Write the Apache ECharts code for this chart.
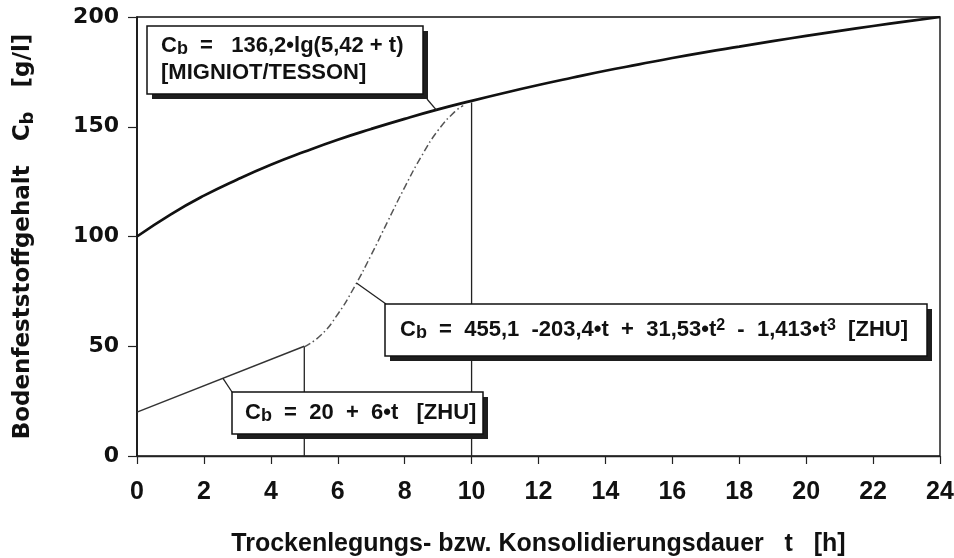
<!DOCTYPE html>
<html><head><meta charset="utf-8">
<script src="https://cdn.jsdelivr.net/npm/echarts@6/dist/echarts.min.js"></script>
<style>html,body{margin:0;padding:0;background:#fff}#c{width:954px;height:558px}</style>
</head><body><div id="c"></div>
<script>
// ---- data ----
const xTickValues = [0,2,4,6,8,10,12,14,16,18,20,22,24];
const yTickValues = [0,50,100,150,200];

// C_b = 136,2*lg(5,42+t)  [MIGNIOT/TESSON]
const tLog  = [0,1,2,3,4,5,6,7,8,9,10,11,12,13,14,15,16,17,18,19,20,21,22,23,24];
const cbLog = [100.0,110.0,118.6,126.0,132.7,138.6,144.1,149.0,153.6,157.9,161.8,165.5,169.0,172.3,175.5,178.4,181.3,184.0,186.5,189.0,191.4,193.7,195.9,198.0,200.0];

// C_b = 20 + 6*t  [ZHU]
const tLin  = [0, 5];
const cbLin = [20, 50];

// C_b = 455,1 - 203,4*t + 31,53*t^2 - 1,413*t^3  [ZHU]
const tCubic  = [5, 5.5, 6, 6.5, 7, 7.5, 8, 8.5, 9, 9.5, 9.75];
const cbCubic = [49.7, 55.1, 64.6, 77.1, 91.6, 107.1, 122.4, 136.5, 148.4, 156.9, 159.6];

// vertical guide lines
const tGuide  = [5, 10];
const cbGuide = [50, 161];

// points where the annotation leader lines touch the curves
const leaderT  = [8.95, 6.56, 2.57];
const leaderCb = [157.6, 78.8, 35.4];

const chart = echarts.init(document.getElementById('c'));
const zip = (a, b) => a.map((v, i) => [v, b[i]]);

const series = [
  { type:'line', data: zip(tLog, cbLog), smooth:true, symbol:'none', z:5,
    lineStyle:{ color:'#111', width:2.7 } },
  { type:'line', data: zip(tLin, cbLin), symbol:'none', z:4,
    lineStyle:{ color:'#333', width:1.5 } },
  { type:'line', data: zip(tCubic, cbCubic), smooth:true, symbol:'none', z:4,
    lineStyle:{ color:'#555', width:1.5, type:[7,3,1.5,3] } }
];
tGuide.forEach((t, i) => series.push({
  type:'line', data:[[t, 0],[t, cbGuide[i]]], symbol:'none', z:3,
  lineStyle:{ color:'#222', width:1.3 }
}));

chart.setOption({
  animation:false,
  backgroundColor:'#fff',
  grid:{ left:137, right:14, top:17, bottom:102, show:true, borderColor:'#111', borderWidth:1.4,
         outerBoundsMode:'none', containLabel:false },
  xAxis:{
    type:'value', min:0, max:24, interval:2,
    axisLine:{ lineStyle:{ color:'#222', width:1.3 } },
    axisTick:{ show:true, inside:false, length:8, lineStyle:{ color:'#222', width:1.2 } },
    splitLine:{ show:false },
    axisLabel:{ margin:24, color:'#111', fontFamily:'Liberation Sans', fontWeight:'bold', fontSize:25,
      formatter: v => xTickValues.includes(v) ? String(v) : '' },
    name:'Trockenlegungs- bzw. Konsolidierungsdauer   t   [h]',
    nameLocation:'middle', nameGap:76,
    nameTextStyle:{ color:'#111', fontFamily:'Liberation Sans', fontWeight:'bold', fontSize:25 }
  },
  yAxis:{
    type:'value', min:0, max:200, interval:50,
    axisLine:{ show:true, lineStyle:{ color:'#111', width:1.6 } },
    axisTick:{ show:true, inside:false, length:9, lineStyle:{ color:'#222', width:1.2 } },
    splitLine:{ show:false },
    axisLabel:{ margin:18, color:'#111', fontFamily:'DejaVu Sans', fontWeight:'bold', fontSize:22,
      formatter: v => yTickValues.includes(v) ? String(v) : '' },
    name:'{a|Bodenfeststoffgehalt   C}{s|b}{a|   [g/l]}',
    nameLocation:'middle', nameGap:100,
    nameTextStyle:{
      rich:{
        a:{ color:'#111', fontFamily:'DejaVu Sans', fontWeight:'bold', fontSize:23, lineHeight:27 },
        s:{ color:'#111', fontFamily:'DejaVu Sans', fontWeight:'bold', fontSize:18, lineHeight:18, verticalAlign:'bottom' }
      }
    }
  },
  series
});

// ---- annotation boxes ----
const P = (t, c) => chart.convertToPixel({ xAxisIndex:0, yAxisIndex:0 }, [t, c]);
const FONT = 'Liberation Sans';
const rich = {
  a:{ fill:'#111', fontFamily:FONT, fontWeight:'bold', fontSize:22, lineHeight:24 },
  s:{ fill:'#111', fontFamily:FONT, fontWeight:'bold', fontSize:18, lineHeight:15, verticalAlign:'bottom' },
  p:{ fill:'#111', fontFamily:FONT, fontWeight:'bold', fontSize:16, lineHeight:15, verticalAlign:'top' }
};
function box(x, y, w, h) {
  return [
    { type:'rect', z:100, shape:{ x:x+5, y:y+5, width:w, height:h }, style:{ fill:'#1e1e1e' } },
    { type:'rect', z:101, shape:{ x:x, y:y, width:w, height:h }, style:{ fill:'#fff', stroke:'#111', lineWidth:1.5 } }
  ];
}
function txt(x, y, s) {
  return { type:'text', z:102, style:{ x:x, y:y, text:s, rich:rich, textAlign:'left', textVerticalAlign:'middle', fill:'#111' } };
}
function leader(x, y, i) {
  const p = P(leaderT[i], leaderCb[i]);
  return { type:'line', z:99, shape:{ x1:x, y1:y, x2:p[0], y2:p[1] }, style:{ stroke:'#222', lineWidth:1.3 } };
}
const g = [];
g.push(leader(427, 99, 0), leader(386, 304, 1), leader(232, 392, 2));
g.push(...box(147, 26, 276, 68));
g.push(txt(161, 46, '{a|C}{s|b}{a|  =   136,2•lg(5,42 + t)}'));
g.push(txt(161, 73, '{a|[MIGNIOT/TESSON]}'));
g.push(...box(385, 304, 542, 52));
g.push(txt(400, 330, '{a|C}{s|b}{a|  =  455,1  -203,4•t  +  31,53•t}{p|2}{a|  -  1,413•t}{p|3}{a|  [ZHU]}'));
g.push(...box(232, 392, 251, 42));
g.push(txt(245, 413, '{a|C}{s|b}{a|  =  20  +  6•t   [ZHU]}'));
chart.setOption({ graphic: g });
</script>
</body></html>
